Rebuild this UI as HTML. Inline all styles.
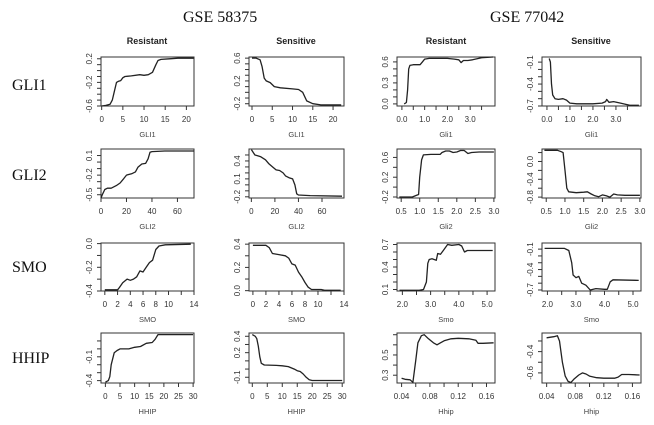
<!DOCTYPE html>
<html><head><meta charset="utf-8">
<style>
html,body{margin:0;padding:0;background:#fff;}
svg{display:block;}
.tk{font-family:"Liberation Sans",sans-serif;font-size:8px;fill:#333;}
.ttl{font-family:"Liberation Sans",sans-serif;font-size:7.5px;fill:#444;}
.col{font-family:"Liberation Sans",sans-serif;font-size:9px;font-weight:bold;fill:#222;}
.big{font-family:"Liberation Serif",serif;font-size:16px;fill:#111;}
</style></head>
<body>
<svg id="fig" width="654" height="425" viewBox="0 0 654 425">
<text class="big" x="183" y="22">GSE 58375</text>
<text class="big" x="490" y="22">GSE 77042</text>
<text class="big" x="12" y="90">GLI1</text>
<text class="big" x="12" y="180">GLI2</text>
<text class="big" x="12" y="272">SMO</text>
<text class="big" x="12" y="363">HHIP</text>
<text class="col" x="147" y="44" text-anchor="middle">Resistant</text>
<text class="col" x="296" y="44" text-anchor="middle">Sensitive</text>
<text class="col" x="446" y="44" text-anchor="middle">Resistant</text>
<text class="col" x="591" y="44" text-anchor="middle">Sensitive</text>
</svg>
<script>
// ---- data: GSE 58375 ----
const gli1ResX = [0,1,2,2.5,3,3.5,4,4.5,5,5.5,7,9,10,11,12,12.8,13.3,14,16,18,21.7];
const gli1ResY = [-0.6,-0.59,-0.57,-0.5,-0.35,-0.2,-0.18,-0.17,-0.12,-0.1,-0.09,-0.07,-0.08,-0.07,-0.03,0.1,0.17,0.19,0.2,0.21,0.21];
const gli1SenX = [0,1,2,2.5,3,3.5,4.5,5.5,7,10,11.5,12.5,13.5,15,17,22];
const gli1SenY = [0.6,0.6,0.57,0.45,0.25,0.2,0.17,0.1,0.08,0.06,0.05,0,-0.15,-0.2,-0.22,-0.22];
const gli2ResX = [0,1,3,5,8,12,15,18,20,24,27,29,32,35,37,38.5,40,50,73];
const gli2ResY = [-0.55,-0.5,-0.42,-0.4,-0.4,-0.36,-0.32,-0.25,-0.2,-0.18,-0.15,-0.08,-0.03,-0.02,0.05,0.15,0.16,0.17,0.17];
const gli2SenX = [0,3,5,8,12,15,18,21,24,27,29,32,35,37,38.5,40,50,77];
const gli2SenY = [0.59,0.5,0.49,0.47,0.42,0.35,0.3,0.25,0.24,0.2,0.15,0.12,0.1,0.0,-0.15,-0.17,-0.18,-0.19];
const smoResX = [0,2,2.3,2.8,3.5,4,4.5,5,5.5,6,6.5,7,7.5,8,8.5,9.5,13.5];
const smoResY = [-0.39,-0.39,-0.37,-0.33,-0.3,-0.31,-0.3,-0.28,-0.23,-0.24,-0.2,-0.16,-0.14,-0.05,-0.02,-0.01,-0.005];
const smoSenX = [0,2,2.5,3,4,5,5.5,6,6.5,7,7.5,8,8.5,9,10.5,11,13.5];
const smoSenY = [0.39,0.39,0.37,0.32,0.31,0.3,0.28,0.23,0.22,0.16,0.12,0.07,0.03,0.01,0.01,0.003,0.003];
const hhipResX = [0,1,1.5,2,3,4,5,8,10,12,14,16,17,18,20,30];
const hhipResY = [-0.42,-0.4,-0.35,-0.2,-0.05,-0.02,0,0,0.02,0.03,0.07,0.08,0.12,0.18,0.18,0.18];
const hhipSenX = [0,1,1.5,2,2.5,3,4,8,10,12,14,15,16,17,18,19,20,30];
const hhipSenY = [0.42,0.4,0.37,0.28,0.15,0.07,0.05,0.045,0.04,0.03,0,-0.02,-0.03,-0.06,-0.1,-0.13,-0.14,-0.14];
// ---- data: GSE 77042 ----
const gli1ResX2 = [0.1,0.2,0.25,0.3,0.35,0.5,0.8,0.9,1.0,1.2,2.0,2.3,2.5,2.6,2.7,2.9,3.1,3.5,4.0];
const gli1ResY2 = [0,0.02,0.2,0.5,0.55,0.56,0.56,0.6,0.64,0.65,0.65,0.64,0.63,0.59,0.62,0.62,0.63,0.66,0.67];
const gli1SenX2 = [0.1,0.15,0.2,0.25,0.35,0.5,0.7,0.85,1.0,1.3,2.0,2.4,2.55,2.6,2.7,2.9,3.2,3.6,4.0];
const gli1SenY2 = [-0.05,-0.1,-0.4,-0.55,-0.6,-0.61,-0.6,-0.62,-0.66,-0.67,-0.67,-0.66,-0.64,-0.61,-0.65,-0.64,-0.66,-0.69,-0.69];
const gli2ResX2 = [0.45,0.8,0.9,0.97,1.0,1.05,1.1,1.3,1.55,1.6,1.7,1.8,1.9,2.0,2.1,2.2,2.3,2.4,2.6,3.0];
const gli2ResY2 = [-0.2,-0.2,-0.17,-0.15,0.2,0.55,0.65,0.66,0.66,0.7,0.73,0.73,0.7,0.71,0.74,0.74,0.68,0.7,0.71,0.71];
const gli2SenX2 = [0.45,0.8,0.9,0.95,1.0,1.05,1.1,1.3,1.5,1.6,1.7,1.8,1.9,2.0,2.1,2.2,2.3,2.4,2.6,3.0];
const gli2SenY2 = [0.25,0.25,0.22,0.2,-0.2,-0.6,-0.68,-0.7,-0.69,-0.68,-0.73,-0.77,-0.79,-0.75,-0.77,-0.8,-0.73,-0.75,-0.76,-0.76];
const smoResX2 = [1.9,2.6,2.75,2.85,2.9,2.95,3.05,3.2,3.25,3.35,3.45,3.6,3.75,4.0,4.1,4.2,4.3,5.2];
const smoResY2 = [0.09,0.09,0.1,0.2,0.45,0.5,0.51,0.49,0.58,0.57,0.62,0.7,0.69,0.7,0.68,0.6,0.62,0.62];
const smoSenX2 = [1.9,2.6,2.75,2.85,2.9,3.0,3.1,3.2,3.35,3.5,3.7,4.0,4.1,4.2,4.3,5.2];
const smoSenY2 = [-0.09,-0.09,-0.12,-0.3,-0.48,-0.52,-0.5,-0.6,-0.63,-0.7,-0.68,-0.69,-0.69,-0.58,-0.55,-0.56];
const hhipResX2 = [0.04,0.045,0.052,0.056,0.06,0.063,0.068,0.072,0.078,0.085,0.09,0.095,0.1,0.11,0.12,0.135,0.145,0.148,0.155,0.17];
const hhipResY2 = [0.27,0.26,0.255,0.23,0.45,0.62,0.69,0.7,0.66,0.62,0.6,0.62,0.64,0.66,0.665,0.66,0.645,0.615,0.615,0.62];
const hhipSenX2 = [0.04,0.05,0.055,0.058,0.062,0.066,0.07,0.074,0.078,0.085,0.09,0.095,0.1,0.11,0.12,0.135,0.14,0.145,0.155,0.17];
const hhipSenY2 = [-0.27,-0.26,-0.25,-0.3,-0.5,-0.63,-0.68,-0.69,-0.66,-0.62,-0.6,-0.61,-0.63,-0.645,-0.65,-0.65,-0.64,-0.615,-0.615,-0.62];
// ---- tick values and labels ----
const xt22 = [0,5,10,15,20]; const xl22 = ["0","5","10","15","20"];
const xt70 = [0,20,40,60]; const xl70 = ["0","20","40","60"];
const xt14 = [0,2,4,6,8,10,12,14]; const xl14 = ["0","2","4","6","8","10","","14"];
const xt30 = [0,5,10,15,20,25,30]; const xl30 = ["0","5","10","15","20","25","30"];
const xtG1 = [0,0.5,1,1.5,2,2.5,3,3.5]; const xlG1 = ["0.0","","1.0","","2.0","","3.0",""];
const xtG2 = [0.5,1,1.5,2,2.5,3]; const xlG2 = ["0.5","1.0","1.5","2.0","2.5","3.0"];
const xtS = [2,2.5,3,3.5,4,4.5,5]; const xlS = ["2.0","","3.0","","4.0","","5.0"];
const xtH = [0.04,0.06,0.08,0.1,0.12,0.14,0.16]; const xlH = ["0.04","","0.08","","0.12","","0.16"];
const ytA = [-0.6,-0.5,-0.4,-0.3,-0.2,-0.1,0,0.1,0.2]; const ylA = ["-0.6","","","","-0.2","","","","0.2"];
const ytB = [-0.2,-0.1,0,0.1,0.2,0.3,0.4,0.5,0.6]; const ylB = ["-0.2","","","","0.2","","","","0.6"];
const ytC = [-0.5,-0.4,-0.3,-0.2,-0.1,0,0.1]; const ylC = ["-0.5","","","-0.2","","","0.1"];
const ytD = [-0.2,-0.1,0,0.1,0.2,0.3,0.4,0.5]; const ylD = ["-0.2","","","0.1","","","0.4",""];
const ytE = [-0.4,-0.3,-0.2,-0.1,0]; const ylE = ["-0.4","","-0.2","","0.0"];
const ytF = [0,0.1,0.2,0.3,0.4]; const ylF = ["0.0","","0.2","","0.4"];
const ytG = [-0.4,-0.3,-0.2,-0.1,0,0.1]; const ylG = ["-0.4","","","-0.1","",""];
const ytH = [-0.1,0,0.1,0.2,0.3,0.4]; const ylH = ["-0.1","","","0.2","","0.4"];
const ytI = [0,0.1,0.2,0.3,0.4,0.5,0.6]; const ylI = ["0.0","","","0.3","","","0.6"];
const ytJ = [-0.7,-0.6,-0.5,-0.4,-0.3,-0.2,-0.1]; const ylJ = ["-0.7","","","-0.4","","","-0.1"];
const ytK = [-0.2,0,0.2,0.4,0.6]; const ylK = ["-0.2","","0.2","","0.6"];
const ytL = [-0.8,-0.6,-0.4,-0.2,0,0.2]; const ylL = ["-0.8","","-0.4","","0.0",""];
const ytM = [0.1,0.2,0.3,0.4,0.5,0.6,0.7]; const ylM = ["0.1","","","0.4","","","0.7"];
const ytN = [-0.7,-0.6,-0.5,-0.4,-0.3,-0.2,-0.1]; const ylN = ["-0.7","","","-0.4","","","-0.1"];
const ytO = [0.3,0.4,0.5,0.6,0.7]; const ylO = ["0.3","","0.5","",""];
const ytP = [-0.6,-0.5,-0.4,-0.3]; const ylP = ["-0.6","","-0.4",""];

const NS = "http://www.w3.org/2000/svg";
const svg = document.getElementById('fig');
const colL = [[101,194],[249,344]], colR = [[397,495],[542,641]];
const rows = [[57,106],[149,198],[243,291],[333,383]];

function mk(tag, attrs, parent){
  const e = document.createElementNS(NS, tag);
  for (const k in attrs) e.setAttribute(k, attrs[k]);
  (parent||svg).appendChild(e); return e;
}
function panel(name, bx, by, xd, yd, xs, ys, xt, xl, yt, yl, title){
  const g = mk('g', {});
  
  
  const sx = v => bx[0] + (v - xd[0]) / (xd[1] - xd[0]) * (bx[1] - bx[0]);
  const sy = v => by[1] - (v - yd[0]) / (yd[1] - yd[0]) * (by[1] - by[0]);
  const box = mk('rect', {x:bx[0], y:by[0], width:bx[1]-bx[0], height:by[1]-by[0], fill:'none', stroke:'#333', 'stroke-width':1}, g);
  
  
  let d = '';
  xs.forEach((x,i)=>{ d += (i?'L':'M') + sx(x).toFixed(1) + ',' + sy(ys[i]).toFixed(1); });
  const p = mk('path', {d:d, fill:'none', stroke:'#222', 'stroke-width':1.3, 'stroke-linejoin':'round'}, g);
  
  
  xt.forEach((v,i)=>{
    const x = sx(v);
    mk('line', {x1:x, x2:x, y1:by[1], y2:by[1]+4, stroke:'#333', 'stroke-width':1}, g);
    if (xl[i]) {
      const t = mk('text', {x:x, y:by[1]+16, 'text-anchor':'middle', class:'tk'}, g);
      t.textContent = xl[i];
      
      
    }
  });
  yt.forEach((v,i)=>{
    const y = sy(v);
    mk('line', {x1:bx[0]-4, x2:bx[0], y1:y, y2:y, stroke:'#333', 'stroke-width':1}, g);
    if (yl[i]) {
      const tx = bx[0]-9;
      const t = mk('text', {x:tx, y:y, 'text-anchor':'middle', class:'tk', transform:'rotate(-90 '+tx+' '+y+')'}, g);
      t.textContent = yl[i];
      
      
    }
  });
  const at = mk('text', {x:(bx[0]+bx[1])/2, y:by[1]+31, 'text-anchor':'middle', class:'ttl'}, g);
  at.textContent = title;
  
  
}
panel('gli1-resistant-58375', colL[0], rows[0], [-0.16,21.8], [-0.6,0.23], gli1ResX, gli1ResY, xt22, xl22, ytA, ylA, 'GLI1');
panel('gli1-sensitive-58375', colL[1], rows[0], [-0.74,22.7], [-0.24,0.62], gli1SenX, gli1SenY, xt22, xl22, ytB, ylB, 'GLI1');
panel('gli2-resistant-58375', colL[0], rows[1], [0,73], [-0.55,0.2], gli2ResX, gli2ResY, xt70, xl70, ytC, ylC, 'GLI2');
panel('gli2-sensitive-58375', colL[1], rows[1], [-2,78.7], [-0.22,0.6], gli2SenX, gli2SenY, xt70, xl70, ytD, ylD, 'GLI2');
panel('smo-resistant-58375', colL[0], rows[2], [-0.6,14], [-0.4,0.005], smoResX, smoResY, xt14, xl14, ytE, ylE, 'SMO');
panel('smo-sensitive-58375', colL[1], rows[2], [-0.6,14], [-0.003,0.41], smoSenX, smoSenY, xt14, xl14, ytF, ylF, 'SMO');
panel('hhip-resistant-58375', colL[0], rows[3], [-1.5,30.3], [-0.43,0.2], hhipResX, hhipResY, xt30, xl30, ytG, ylG, 'HHIP');
panel('hhip-sensitive-58375', colL[1], rows[3], [-1.1,30.6], [-0.17,0.44], hhipSenX, hhipSenY, xt30, xl30, ytH, ylH, 'HHIP');
panel('gli1-resistant-77042', colR[0], rows[0], [-0.215,4.09], [-0.03,0.67], gli1ResX2, gli1ResY2, xtG1, xlG1, ytI, ylI, 'Gli1');
panel('gli1-sensitive-77042', colR[1], rows[0], [-0.215,4.09], [-0.7,-0.03], gli1SenX2, gli1SenY2, xtG1, xlG1, ytJ, ylJ, 'Gli1');
panel('gli2-resistant-77042', colR[0], rows[1], [0.387,3.03], [-0.22,0.77], gli2ResX2, gli2ResY2, xtG2, xlG2, ytK, ylK, 'Gli2');
panel('gli2-sensitive-77042', colR[1], rows[1], [0.387,3.03], [-0.82,0.28], gli2SenX2, gli2SenY2, xtG2, xlG2, ytL, ylL, 'Gli2');
panel('smo-resistant-77042', colR[0], rows[2], [1.81,5.28], [0.08,0.72], smoResX2, smoResY2, xtS, xlS, ytM, ylM, 'Smo');
panel('smo-sensitive-77042', colR[1], rows[2], [1.81,5.28], [-0.715,-0.01], smoSenX2, smoSenY2, xtS, xlS, ytN, ylN, 'Smo');
panel('hhip-resistant-77042', colR[0], rows[3], [0.0335,0.172], [0.223,0.717], hhipResX2, hhipResY2, xtH, xlH, ytO, ylO, 'Hhip');
panel('hhip-sensitive-77042', colR[1], rows[3], [0.0335,0.172], [-0.695,-0.225], hhipSenX2, hhipSenY2, xtH, xlH, ytP, ylP, 'Hhip');
</script>
</body></html>
